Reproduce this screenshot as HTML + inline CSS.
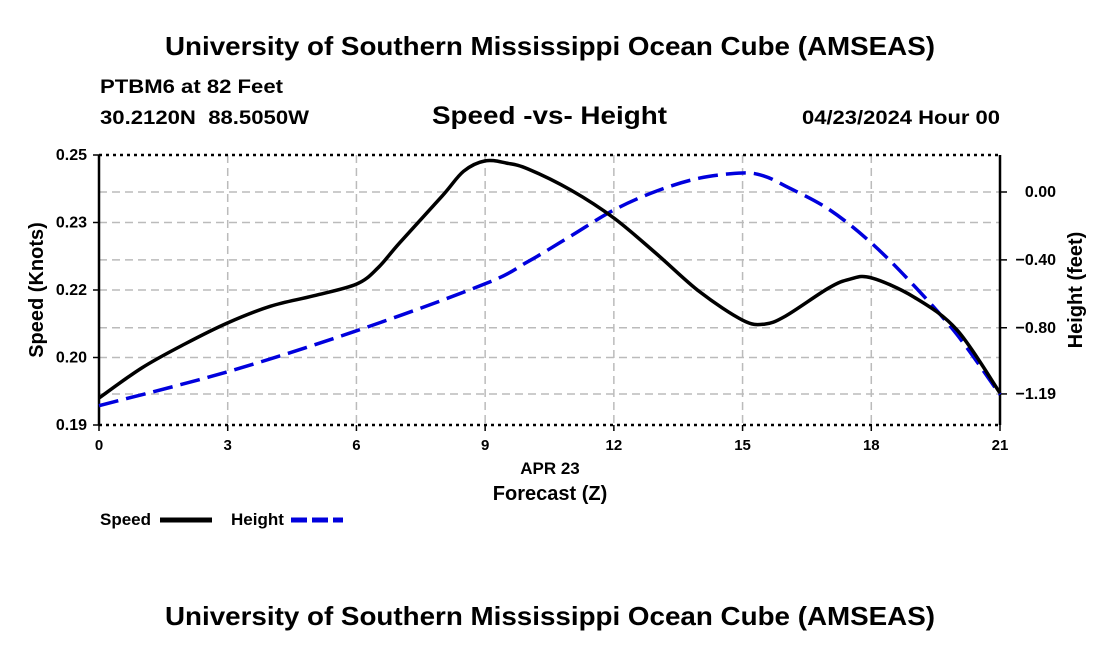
<!DOCTYPE html>
<html><head><meta charset="utf-8"><style>
body{margin:0;background:#fff;width:1100px;height:650px;overflow:hidden;font-family:"Liberation Sans",sans-serif;}
</style></head><body>
<svg id="chart" width="1100" height="650" viewBox="0 0 1100 650" xmlns="http://www.w3.org/2000/svg" font-family="Liberation Sans, sans-serif">
<text x="165" y="55" font-size="26" font-weight="bold" textLength="770" lengthAdjust="spacingAndGlyphs">University of Southern Mississippi Ocean Cube (AMSEAS)</text>
<text x="100" y="93" font-size="19" font-weight="bold" textLength="183" lengthAdjust="spacingAndGlyphs">PTBM6 at 82 Feet</text>
<text x="100" y="124" font-size="19" font-weight="bold" textLength="209" lengthAdjust="spacingAndGlyphs" xml:space="preserve">30.2120N  88.5050W</text>
<text x="432" y="124" font-size="25" font-weight="bold" textLength="235" lengthAdjust="spacingAndGlyphs">Speed -vs- Height</text>
<text x="802" y="124" font-size="19" font-weight="bold" textLength="198" lengthAdjust="spacingAndGlyphs">04/23/2024 Hour 00</text>
<g id="grid"></g>
<g id="axes"></g>
<g id="series"></g>
<text x="550" y="474" text-anchor="middle" font-size="17" font-weight="bold">APR 23</text>
<text x="550" y="500" text-anchor="middle" font-size="20" font-weight="bold">Forecast (Z)</text>
<text transform="translate(43,290) rotate(-90)" text-anchor="middle" font-size="20" font-weight="bold">Speed (Knots)</text>
<text transform="translate(1082,290) rotate(-90)" text-anchor="middle" font-size="20" font-weight="bold">Height (feet)</text>
<g><text x="100" y="525" font-size="17" font-weight="bold">Speed</text><line x1="160" y1="520" x2="212" y2="520" stroke="#000" stroke-width="5"/></g>
<g><text x="231" y="525" font-size="17" font-weight="bold">Height</text><line x1="291" y1="520" x2="343" y2="520" stroke="#0000dd" stroke-width="5" stroke-dasharray="16,5"/></g>
<text x="165" y="625" font-size="26" font-weight="bold" textLength="770" lengthAdjust="spacingAndGlyphs">University of Southern Mississippi Ocean Cube (AMSEAS)</text>
</svg>
<script>
const hours=[0,3,6,9,12,15,18,21];
const speedTicks=[0.19,0.205,0.22,0.235,0.25];
const speedTickLabels=["0.19","0.20","0.22","0.23","0.25"];
const heightTicks=[0.0,-0.4,-0.8,-1.19];
const heightTickLabels=["0.00","-0.40","-0.80","-1.19"];
const speedHours=[0,1,2,3,4,5,6,6.5,7,8,8.5,9,9.5,10,11,12,13,14,15,15.5,16,17,17.5,18,19,20,21];
const speedVals=[0.196,0.2027,0.208,0.2127,0.2164,0.2187,0.2213,0.2249,0.2304,0.2409,0.2464,0.2487,0.2482,0.2469,0.2422,0.236,0.228,0.2196,0.2133,0.2124,0.2142,0.2204,0.2224,0.2227,0.2184,0.2111,0.1971];
const heightHours=[0,3,6,9,10,11,12,13,14,15,15.5,16,17,18,19,20,21];
const heightVals=[-1.259,-1.059,-0.818,-0.541,-0.41,-0.259,-0.106,0.006,0.082,0.112,0.094,0.035,-0.1,-0.3,-0.553,-0.841,-1.194];
const NS="http://www.w3.org/2000/svg";
const L=99,R=1000,T=155,B=425;
const xS=h=>L+(h-0)/(21-0)*(R-L);
const yS=v=>B-(v-0.19)/(0.25-0.19)*(B-T);
const pxPerFt=169.7, y0=192;
const yH=v=>y0-v*pxPerFt;
function mk(tag,attrs,parent){const e=document.createElementNS(NS,tag);for(const k in attrs)e.setAttribute(k,attrs[k]);parent.appendChild(e);return e;}
const grid=document.getElementById('grid'),axes=document.getElementById('axes'),series=document.getElementById('series');
hours.forEach(h=>{
  if(h>0&&h<21){const g=mk('line',{x1:xS(h),x2:xS(h),y1:T,y2:B,stroke:'#bbb','stroke-width':1.5,'stroke-dasharray':'8,5'},grid);
  
  }
  const t=mk('text',{x:xS(h),y:B+25,'text-anchor':'middle','font-size':15,'font-weight':'bold'},axes);t.textContent=h;
  
  
  mk('line',{x1:xS(h),x2:xS(h),y1:B,y2:B+6,stroke:'#000','stroke-width':1.5},axes);
});
speedTicks.forEach((v,i)=>{
  const y=yS(v);
  if(i>0&&i<speedTicks.length-1){const g=mk('line',{x1:L,x2:R,y1:y,y2:y,stroke:'#bbb','stroke-width':1.5,'stroke-dasharray':'8,5'},grid);
  
  }
  mk('line',{x1:L-6,x2:L,y1:y,y2:y,stroke:'#000','stroke-width':1.5},axes);
  const t=mk('text',{x:L-12,y:y+5,'text-anchor':'end','font-size':16,'font-weight':'bold'},axes);t.textContent=speedTickLabels[i];
  
  
});
heightTicks.forEach((v,i)=>{
  const y=yH(v);
  const g=mk('line',{x1:L,x2:R,y1:y,y2:y,stroke:'#bbb','stroke-width':1.5,'stroke-dasharray':'8,5'},grid);
  
  
  mk('line',{x1:R,x2:R+7,y1:y,y2:y,stroke:'#000','stroke-width':1.5},axes);
  const t=mk('text',{x:R+56,y:y+5,'text-anchor':'end','font-size':16,'font-weight':'bold'},axes);t.textContent=heightTickLabels[i].replace('-','\u2212');
  
  
});
mk('line',{x1:L,x2:L,y1:T,y2:B,stroke:'#000','stroke-width':2.5},axes);
mk('line',{x1:R,x2:R,y1:T,y2:B,stroke:'#000','stroke-width':2.5},axes);
mk('line',{x1:L,x2:R,y1:T,y2:T,stroke:'#000','stroke-width':2.5,'stroke-dasharray':'3,4'},axes);
mk('line',{x1:L,x2:R,y1:B,y2:B,stroke:'#000','stroke-width':2.5,'stroke-dasharray':'3,4'},axes);
function smooth(pts){
  let d='M'+pts[0][0]+','+pts[0][1];
  for(let i=0;i<pts.length-1;i++){
    const p0=pts[i-1]||pts[i],p1=pts[i],p2=pts[i+1],p3=pts[i+2]||p2;
    const c1=[p1[0]+(p2[0]-p0[0])/6,p1[1]+(p2[1]-p0[1])/6],c2=[p2[0]-(p3[0]-p1[0])/6,p2[1]-(p3[1]-p1[1])/6];
    d+=' C'+c1[0]+','+c1[1]+' '+c2[0]+','+c2[1]+' '+p2[0]+','+p2[1];
  }
  return d;
}
const hp=mk('path',{d:smooth(heightHours.map((h,i)=>[xS(h),yH(heightVals[i])])),fill:'none',stroke:'#0000dd','stroke-width':3.5,'stroke-dasharray':'20,8'},series);


const sp=mk('path',{d:smooth(speedHours.map((h,i)=>[xS(h),yS(speedVals[i])])),fill:'none',stroke:'#000','stroke-width':3.5},series);


</script>
</body></html>
